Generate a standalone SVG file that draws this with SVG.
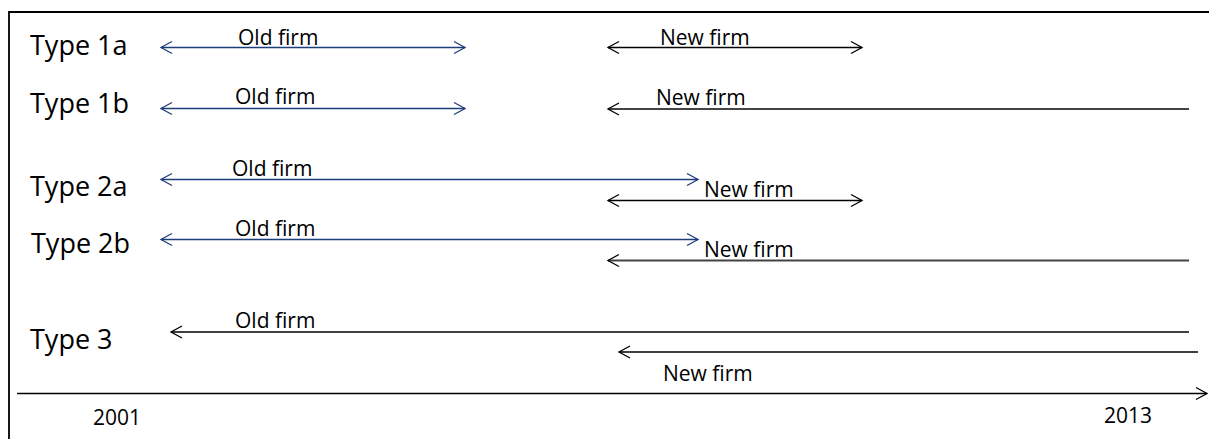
<svg xmlns="http://www.w3.org/2000/svg" width="1209" height="439" viewBox="0 0 1209 439">
<style>
.type{font-family:"Open Sans","Liberation Sans",sans-serif;font-size:27px;fill:#000}
.lbl{font-family:"Open Sans","Liberation Sans",sans-serif;font-size:21px;fill:#000}
.blue{stroke:#1f3d7a;stroke-width:1.3;fill:none}
.blk{stroke:#000;stroke-width:1.3;fill:none}
.gry{stroke:#444;stroke-width:2;fill:none}
</style>
<defs>
<marker id="hb" markerUnits="userSpaceOnUse" markerWidth="16" markerHeight="16" viewBox="-14 -8 16 16" refX="0" refY="0" orient="auto-start-reverse">
<path d="M-11,-6 L0,0 L-11,6" fill="none" stroke="#1f3d7a" stroke-width="1.3"/>
</marker>
<marker id="hk" markerUnits="userSpaceOnUse" markerWidth="16" markerHeight="16" viewBox="-14 -8 16 16" refX="0" refY="0" orient="auto-start-reverse">
<path d="M-11,-6 L0,0 L-11,6" fill="none" stroke="#000" stroke-width="1.3"/>
</marker>
</defs>
<rect width="1209" height="439" fill="#fff"/>
<g id="frame">
<path d="M9,439 L9,12 L1209,12" fill="none" stroke="#000" stroke-width="1.8"/>
</g>
<g id="type1a"><text class="type" x="30" y="55">Type 1a</text></g>
<g id="type1b"><text class="type" x="30" y="113">Type 1b</text></g>
<g id="type2a"><text class="type" x="30" y="196">Type 2a</text></g>
<g id="type2b"><text class="type" x="31" y="253">Type 2b</text></g>
<g id="type3"><text class="type" x="30" y="349">Type 3</text></g>
<g id="connectors">
<line class="blue" x1="161" y1="47.5" x2="465" y2="47.5" marker-start="url(#hb)" marker-end="url(#hb)"/>
<line class="blk" x1="608" y1="47.5" x2="862" y2="47.5" marker-start="url(#hk)" marker-end="url(#hk)"/>
<line class="blue" x1="161" y1="108.5" x2="465" y2="108.5" marker-start="url(#hb)" marker-end="url(#hb)"/>
<line class="gry" x1="608" y1="109" x2="1189" y2="109" marker-start="url(#hk)"/>
<line class="blue" x1="161" y1="179.5" x2="698" y2="179.5" marker-start="url(#hb)" marker-end="url(#hb)"/>
<line class="blk" x1="608" y1="200.5" x2="862" y2="200.5" marker-start="url(#hk)" marker-end="url(#hk)"/>
<line class="blue" x1="161" y1="239.5" x2="698" y2="239.5" marker-start="url(#hb)" marker-end="url(#hb)"/>
<line class="gry" x1="608" y1="260.5" x2="1189" y2="260.5" marker-start="url(#hk)"/>
<line class="blk" x1="171" y1="332" x2="1189" y2="332" marker-start="url(#hk)"/>
<line class="blk" x1="619" y1="352" x2="1198" y2="352" marker-start="url(#hk)"/>
<line class="blk" x1="17" y1="393.5" x2="1207" y2="393.5" marker-end="url(#hk)"/>
</g>
<g id="labels">
<text class="lbl" x="238" y="45">Old firm</text>
<text class="lbl" x="660" y="45">New firm</text>
<text class="lbl" x="235" y="104">Old firm</text>
<text class="lbl" x="656" y="105">New firm</text>
<text class="lbl" x="232" y="176">Old firm</text>
<text class="lbl" x="704" y="197">New firm</text>
<text class="lbl" x="235" y="236">Old firm</text>
<text class="lbl" x="704" y="257">New firm</text>
<text class="lbl" x="235" y="328">Old firm</text>
<text class="lbl" x="663" y="381">New firm</text>
</g>
<g id="axis-labels">
<text class="lbl" x="93" y="425">2001</text>
<text class="lbl" x="1104" y="423">2013</text>
</g>
</svg>
